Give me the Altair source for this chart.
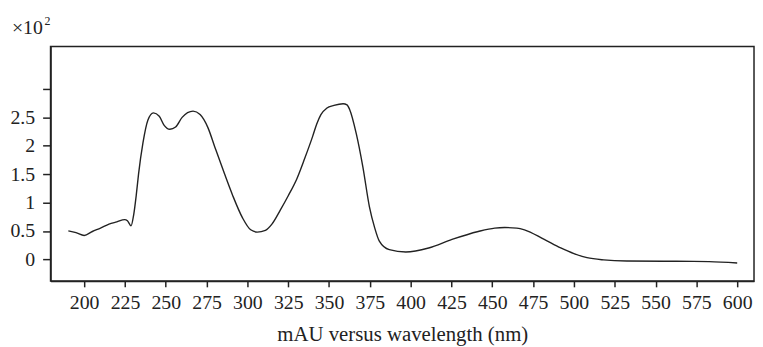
import altair as alt
import pandas as pd

wavelength = [190.3, 195, 200, 205, 210, 215.2, 220, 224.8, 226.5, 228.7, 230.3, 231.9, 233.3, 236, 239, 242.4,
              246, 249, 252.5, 256, 260, 266.7, 271, 275.8, 280, 285.9, 290.9, 297, 302, 306, 311, 315,
              320.2, 325, 330.3, 335, 340, 342.4, 345, 348.5, 353, 358.6, 361, 362.6, 366.7, 370.7, 374.7, 378,
              380.8, 386.9, 397, 411, 425.3, 441.4, 451.5, 457.6, 465, 469.7, 481.8, 491.9, 500, 508,
              518.2, 532.3, 562.6, 582.8, 600]
mau = [0.50, 0.47, 0.42, 0.49, 0.55, 0.62, 0.66, 0.70, 0.68, 0.59, 0.78, 1.13, 1.50, 2.05, 2.45, 2.58,
       2.52, 2.36, 2.29, 2.33, 2.50, 2.61, 2.55, 2.32, 1.98, 1.51, 1.13, 0.73, 0.52, 0.48, 0.51, 0.62,
       0.87, 1.12, 1.42, 1.77, 2.17, 2.38, 2.55, 2.66, 2.71, 2.74, 2.72, 2.64, 2.21, 1.63, 0.93, 0.55,
       0.32, 0.17, 0.13, 0.20, 0.35, 0.49, 0.55, 0.56, 0.55, 0.52, 0.35, 0.20, 0.10, 0.03,
       -0.01, -0.03, -0.035, -0.04, -0.065]

x_ticks = [200, 225, 250, 275, 300, 325, 350, 375, 400, 425, 450, 475, 500, 525, 550, 575, 600]
y_ticks = [0, 0.5, 1, 1.5, 2, 2.5, 3]

df = pd.DataFrame({"wl": wavelength, "mau": mau})

FONT = "Liberation Serif"
FS = 20

line = alt.Chart(df).mark_line(color="#222222", strokeWidth=1.4, interpolate="monotone").encode(
    x=alt.X("wl:Q", scale=alt.Scale(domain=[179.4, 610.3], nice=False, zero=False),
            axis=alt.Axis(values=x_ticks, title="mAU versus wavelength (nm)", grid=False,
                          tickSize=6, tickColor="#222", tickWidth=1.5, domainColor="#222",
                          domainWidth=1.5, labelFont=FONT, labelFontSize=FS, labelColor="#222",
                          labelPadding=6, titleFont=FONT, titleFontSize=21, titleFontWeight="normal",
                          titleColor="#222", titlePadding=11)),
    y=alt.Y("mau:Q", scale=alt.Scale(domain=[-0.38, 3.75], nice=False, zero=False),
            axis=alt.Axis(values=y_ticks, title=None, grid=False, format="~g",
                          labelExpr="datum.value >= 3 ? '' : datum.label",
                          tickSize=8, tickColor="#222", tickWidth=1.5, domainColor="#222",
                          domainWidth=1.5, labelFont=FONT, labelFontSize=FS, labelColor="#222",
                          labelPadding=8)),
)

exp_text = alt.Chart(pd.DataFrame({"t": ["×10"]})).mark_text(
    align="left", baseline="alphabetic", font=FONT, fontSize=FS, color="#222"
).encode(x=alt.value(-39), y=alt.value(-13), text="t:N")

sup_text = alt.Chart(pd.DataFrame({"t": ["2"]})).mark_text(
    align="left", baseline="alphabetic", font=FONT, fontSize=12, color="#222"
).encode(x=alt.value(-6), y=alt.value(-22), text="t:N")

chart = alt.layer(line, exp_text, sup_text).properties(
    width=711, height=237,
    autosize=alt.AutoSizeParams(type="none"),
    padding={"left": 43, "top": 37, "right": 1, "bottom": 66},
).configure(font=FONT).configure_view(stroke="#222", strokeWidth=1.5)

chart.save("out.html", embed_options={"renderer": "svg", "actions": False})
